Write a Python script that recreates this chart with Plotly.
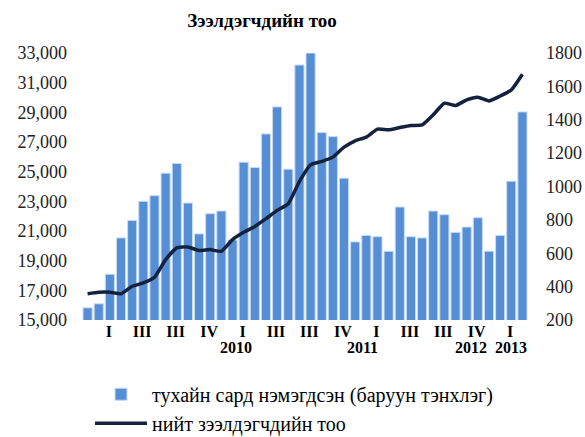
import plotly.graph_objects as go

# monthly additions (right axis) and total borrowers (left axis)
monthly_added = [273, 297, 474, 692, 797, 911, 945, 1080, 1138, 901,
                 716, 837, 853, 680, 1146, 1114, 1315, 1477, 1104, 1728,
                 1800, 1323, 1299, 1050, 668, 707, 699, 612, 877, 699,
                 692, 853, 831, 725, 757, 813, 612, 707, 1032, 1447]
total_borrowers = [16770, 16870, 16870, 16770, 17275, 17500, 17880, 19070, 19860, 19925,
                   19680, 19745, 19630, 20420, 20910, 21310, 21830, 22390, 22840, 24340,
                   25460, 25690, 25980, 26650, 27080, 27330, 27865, 27820, 27975, 28110,
                   28150, 28830, 29615, 29455, 29840, 30020, 29770, 30100, 30510, 31570]
quarter_ticks = ["I", "III", "III", "IV", "I", "III", "III", "IV", "I", "III", "III", "IV", "I"]
quarter_pos = [1.9 + 3 * k for k in range(len(quarter_ticks))]
years = ["2010", "2011", "2012", "2013"]
year_pos = [13.3, 24.7, 34.4, 38.0]

idx = list(range(len(monthly_added)))
serif = "Liberation Serif"

fig = go.Figure()
fig.add_trace(go.Bar(
    x=idx, y=monthly_added, yaxis="y",
    name="тухайн сард нэмэгдсэн (баруун тэнхлэг)",
    marker=dict(color="#558ed5", line=dict(color="#c9dbf2", width=1)),
))
fig.add_trace(go.Scatter(
    x=idx, y=total_borrowers, yaxis="y2", mode="lines",
    name="нийт зээлдэгчдийн тоо",
    line=dict(color="#14223d", width=3.5, shape="spline", smoothing=0.5),
))

for label, pos in zip(years, year_pos):
    fig.add_annotation(x=pos, y=-0.103, xref="x", yref="paper", text=label,
                       showarrow=False, yanchor="middle", xanchor="center",
                       font=dict(family=serif, size=16, color="black", weight="bold"))

fig.update_layout(
    width=585, height=437,
    margin=dict(l=82, r=57, t=53, b=117, autoexpand=False),
    paper_bgcolor="white", plot_bgcolor="white",
    bargap=0.18,
    showlegend=True,
    title=dict(text="<b>Зээлдэгчдийн тоо</b>", x=262 / 585, xref="container", xanchor="center",
               y=1 - 20 / 437, yref="container", yanchor="middle",
               font=dict(family=serif, size=19, color="black")),
    xaxis=dict(range=[-0.5, len(idx) - 0.5], tickvals=quarter_pos, ticktext=quarter_ticks,
               showgrid=False, zeroline=False, showline=False, ticks="", automargin=False,
               tickfont=dict(family=serif, size=16, color="black", weight="bold")),
    yaxis=dict(side="right", range=[200, 1800], dtick=200, showgrid=False, zeroline=False,
               showline=False, ticks="", ticklabelstandoff=17, automargin=False,
               tickfont=dict(family=serif, size=18, color="#222")),
    yaxis2=dict(side="left", overlaying="y", range=[15000, 33000], tick0=15000, dtick=2000,
                tickformat=",d", showgrid=False, zeroline=False, showline=False, ticks="",
                ticklabelstandoff=14, automargin=False,
                tickfont=dict(family=serif, size=18, color="#222")),
    legend=dict(x=0.018, y=-0.205, xanchor="left", yanchor="top", orientation="v",
                traceorder="normal", itemwidth=52,
                font=dict(family=serif, size=20, color="black"),
                bgcolor="rgba(0,0,0,0)", tracegroupgap=0),
)

fig.write_html("out.html", config={"displayModeBar": False},
               post_script="document.body.style.margin='0';")
